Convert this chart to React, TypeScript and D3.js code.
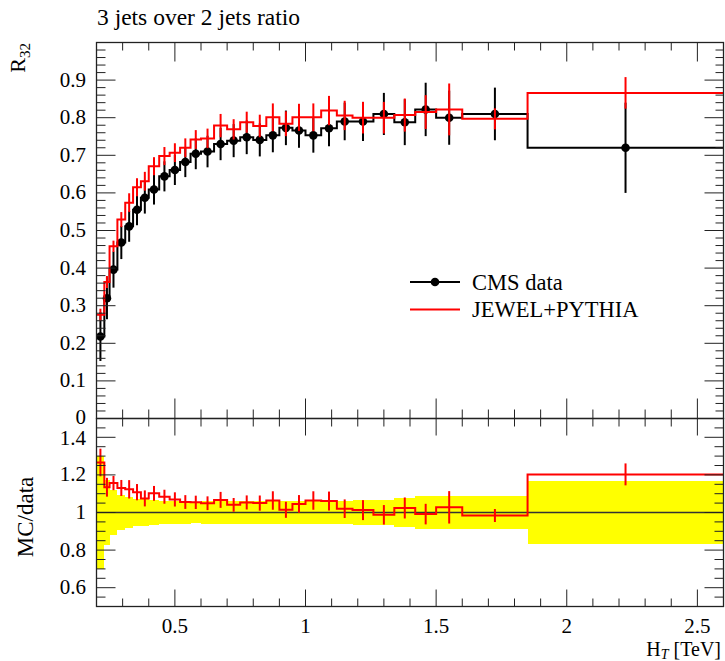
import React from 'react';
import * as d3 from 'd3';

// HT bin edges [TeV]
const binEdges = [0.2, 0.23, 0.25, 0.28, 0.31, 0.34, 0.37, 0.40, 0.44, 0.48, 0.52, 0.56, 0.60, 0.65, 0.70, 0.75, 0.80, 0.85, 0.90, 0.95, 1.0, 1.06, 1.12, 1.18, 1.26, 1.34, 1.42, 1.5, 1.6, 1.85, 2.6];
// CMS data R32
const cmsValues = [0.218, 0.32, 0.396, 0.468, 0.511, 0.555, 0.587, 0.609, 0.644, 0.661, 0.682, 0.704, 0.710, 0.730, 0.739, 0.748, 0.741, 0.753, 0.773, 0.766, 0.753, 0.772, 0.790, 0.790, 0.810, 0.788, 0.822, 0.800, 0.810, 0.720];
const cmsErrors = [0.065, 0.056, 0.048, 0.044, 0.041, 0.041, 0.042, 0.040, 0.040, 0.040, 0.040, 0.041, 0.042, 0.043, 0.044, 0.045, 0.044, 0.045, 0.046, 0.046, 0.046, 0.048, 0.050, 0.052, 0.056, 0.061, 0.071, 0.072, 0.070, 0.120];
// JEWEL+PYTHIA R32
const jewelValues = [0.276, 0.363, 0.458, 0.529, 0.574, 0.615, 0.631, 0.671, 0.698, 0.707, 0.720, 0.742, 0.745, 0.779, 0.769, 0.788, 0.778, 0.801, 0.784, 0.801, 0.801, 0.819, 0.806, 0.800, 0.800, 0.807, 0.815, 0.822, 0.797, 0.866];
const jewelErrors = [0.016, 0.016, 0.015, 0.020, 0.025, 0.024, 0.025, 0.024, 0.024, 0.025, 0.025, 0.025, 0.026, 0.031, 0.027, 0.028, 0.030, 0.037, 0.033, 0.036, 0.037, 0.039, 0.039, 0.042, 0.042, 0.044, 0.045, 0.069, 0.028, 0.042];

const xTickValues = [0.5, 1, 1.5, 2, 2.5];
const xTickLabels = ['0.5', '1', '1.5', '2', '2.5'];
const mainYTickValues = [0, 0.1, 0.2, 0.3, 0.4, 0.5, 0.6, 0.7, 0.8, 0.9];
const mainYTickLabels = ['0', '0.1', '0.2', '0.3', '0.4', '0.5', '0.6', '0.7', '0.8', '0.9'];
const ratioYTickValues = [0.6, 0.8, 1, 1.2, 1.4];
const ratioYTickLabels = ['0.6', '0.8', '1', '1.2', '1.4'];

const W = 725, H = 661;
const L = 96.5, R = 723.5, T = 42.5, MB = 418.5, RB = 606.5;
const FONT = '"Liberation Serif", "Times New Roman", serif';
const RED = '#ff0000';

export default function App() {
  const x = d3.scaleLinear().domain([0.2, 2.6]).range([L, R]);
  const y = d3.scaleLinear().domain([0, 1]).range([MB, T]);
  const yr = d3.scaleLinear().domain([0.5, 1.5]).range([RB, MB]);
  const n = cmsValues.length;
  const centers = d3.range(n).map(i => (binEdges[i] + binEdges[i + 1]) / 2);
  const ratio = jewelValues.map((v, i) => v / cmsValues[i]);
  const ratioErr = jewelErrors.map((e, i) => e / cmsValues[i]);
  const relErr = cmsErrors.map((e, i) => e / cmsValues[i]);
  const stepPts = (vals: number[]) => [...vals.map((v, i) => [binEdges[i], v] as [number, number]), [binEdges[n], vals[n - 1]] as [number, number]];
  const lineMain = d3.line<[number, number]>().x(d => x(d[0])).y(d => y(d[1])).curve(d3.curveStepAfter);
  const lineRatio = d3.line<[number, number]>().x(d => x(d[0])).y(d => yr(d[1])).curve(d3.curveStepAfter);

  // tick positions
  const xMinor = d3.range(3, 26).map(k => k / 10).filter(v => Math.abs(v * 2 - Math.round(v * 2)) > 1e-6);
  const mainYMinor = d3.range(1, 50).map(k => k / 50).filter(v => Math.abs(v * 10 - Math.round(v * 10)) > 1e-6);
  const ratioMinor = d3.range(11, 30).map(k => k / 20).filter(v => Math.abs(v * 5 - Math.round(v * 5)) > 1e-6);

  const tickStroke = '#222';
  const ticks: React.ReactNode[] = [];
  let key = 0;
  const vline = (xx: number, y1: number, y2: number) => ticks.push(<line key={key++} x1={xx} x2={xx} y1={y1} y2={y2} stroke={tickStroke} strokeWidth={1} />);
  const hline = (yy: number, x1: number, x2: number) => ticks.push(<line key={key++} x1={x1} x2={x2} y1={yy} y2={yy} stroke={tickStroke} strokeWidth={1} />);

  xTickValues.forEach(v => {
    const px = x(v);
    vline(px, T, T + 19);
    vline(px, MB, MB - 20);
    vline(px, MB, MB + 17);
    vline(px, RB, RB - 17);
  });
  xMinor.forEach(v => {
    const px = x(v);
    vline(px, T, T + 8);
    vline(px, MB, MB - 9);
    vline(px, MB, MB + 8);
    vline(px, RB, RB - 8);
  });
  mainYTickValues.forEach(v => {
    const py = y(v);
    hline(py, L, L + 19);
    hline(py, R, R - 19);
  });
  mainYMinor.forEach(v => {
    const py = y(v);
    hline(py, L, L + 9);
    hline(py, R, R - 8);
  });
  ratioYTickValues.forEach(v => {
    const py = yr(v);
    hline(py, L, L + 19);
    hline(py, R, R - 19);
  });
  ratioMinor.forEach(v => {
    const py = yr(v);
    hline(py, L, L + 9);
    hline(py, R, R - 9);
  });

  return (
    <svg width={W} height={H} style={{ position: 'absolute', left: 0, top: 0, background: '#fff' }} fontFamily={FONT}>
      <rect x={0} y={0} width={W} height={H} fill="#fff" />
      {/* title */}
      <text x={97} y={25} fontSize={23.5}>3 jets over 2 jets ratio</text>

      {/* ratio band */}
      <g shapeRendering="crispEdges">
        {relErr.map((r, i) => (
          <rect key={i} x={x(binEdges[i])} width={x(binEdges[i + 1]) - x(binEdges[i])}
            y={yr(1 + r)} height={yr(1 - r) - yr(1 + r)} fill="#ffff00" />
        ))}
      </g>
      <line x1={L} x2={R} y1={yr(1)} y2={yr(1)} stroke="#333" strokeWidth={1.5} />

      {/* main: data */}
      <path d={lineMain(stepPts(cmsValues)) || ''} fill="none" stroke="#000" strokeWidth={2} />
      {centers.map((c, i) => (
        <line key={'de' + i} x1={x(c)} x2={x(c)} y1={y(cmsValues[i] - cmsErrors[i])} y2={y(cmsValues[i] + cmsErrors[i])} stroke="#000" strokeWidth={2} />
      ))}
      {centers.map((c, i) => (
        <circle key={'dm' + i} cx={x(c)} cy={y(cmsValues[i])} r={4.3} fill="#000" />
      ))}
      {/* main: MC */}
      <path d={lineMain(stepPts(jewelValues)) || ''} fill="none" stroke={RED} strokeWidth={2} />
      {centers.map((c, i) => (
        <line key={'me' + i} x1={x(c)} x2={x(c)} y1={y(jewelValues[i] - jewelErrors[i])} y2={y(jewelValues[i] + jewelErrors[i])} stroke={RED} strokeWidth={2} />
      ))}

      {/* ratio MC */}
      <path d={lineRatio(stepPts(ratio)) || ''} fill="none" stroke={RED} strokeWidth={2} />
      {centers.map((c, i) => (
        <line key={'re' + i} x1={x(c)} x2={x(c)} y1={yr(ratio[i] - ratioErr[i])} y2={yr(ratio[i] + ratioErr[i])} stroke={RED} strokeWidth={2} />
      ))}

      {/* ticks and frames */}
      {ticks}
      <rect x={L} y={T} width={R - L} height={MB - T} fill="none" stroke="#222" strokeWidth={1.3} />
      <rect x={L} y={MB} width={R - L} height={RB - MB} fill="none" stroke="#222" strokeWidth={1.3} />

      {/* tick labels */}
      {mainYTickValues.map((v, i) => (
        <text key={'ml' + i} x={86} y={y(v) + (v === 0 ? 5 : 6.5)} fontSize={21} textAnchor="end">{mainYTickLabels[i]}</text>
      ))}
      {ratioYTickValues.map((v, i) => (
        <text key={'rl' + i} x={86} y={yr(v) + (v === 1.4 ? 8 : 6.5)} fontSize={21} textAnchor="end">{ratioYTickLabels[i]}</text>
      ))}
      {xTickValues.map((v, i) => (
        <text key={'xl' + i} x={x(v)} y={633} fontSize={21} textAnchor="middle">{xTickLabels[i]}</text>
      ))}

      {/* axis labels */}
      <text x={721} y={656} fontSize={20} textAnchor="end">H<tspan fontSize={14} fontStyle="italic" dy={3}>T</tspan><tspan dy={-3}> [TeV]</tspan></text>
      <text transform="translate(25,43) rotate(-90)" fontSize={22} textAnchor="end">R<tspan fontSize={15} dy={5}>32</tspan></text>
      <text transform="translate(33,517) rotate(-90)" fontSize={23} textAnchor="middle">MC/data</text>

      {/* legend */}
      <line x1={410} x2={460} y1={282} y2={282} stroke="#000" strokeWidth={2} />
      <circle cx={435} cy={282} r={4.3} fill="#000" />
      <text x={472} y={289.5} fontSize={22.5}>CMS data</text>
      <line x1={410} x2={460} y1={309.5} y2={309.5} stroke={RED} strokeWidth={2} />
      <text x={472} y={317} fontSize={22.5}>JEWEL+PYTHIA</text>
    </svg>
  );
}
